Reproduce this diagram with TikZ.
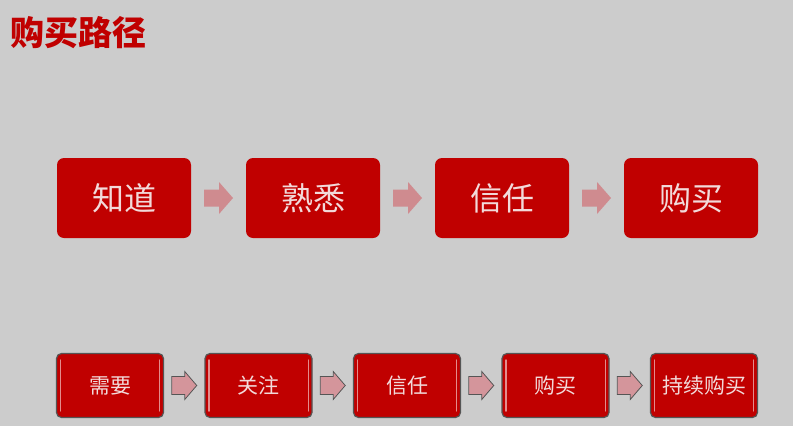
\documentclass[tikz,border=0pt]{standalone}
\usepackage{fontspec}
\newfontfamily\cjk{Noto Sans CJK SC}
\usetikzlibrary{calc}
\definecolor{bg}{HTML}{CCCCCC}
\definecolor{boxred}{HTML}{C00000}
\definecolor{txtlight}{HTML}{F2DADA}
\definecolor{arrowpink}{HTML}{CF8B8F}
\definecolor{arrowpink2}{HTML}{D4959B}
\definecolor{edgegray}{HTML}{555555}
\definecolor{gloss}{HTML}{E38C8C}
\tikzset{
  bigbox/.style={fill=boxred, rounded corners=7pt, minimum width=134pt, minimum height=80pt, inner sep=0pt,
    text=txtlight, font=\cjk\fontsize{32}{36}\selectfont},
  smallbox/.style={fill=boxred, draw=edgegray, line width=1.2pt, rounded corners=5pt, minimum width=107pt, minimum height=64pt, inner sep=0pt,
    text=txtlight, font=\cjk\fontsize{21}{24}\selectfont},
  bigarrow/.style={fill=arrowpink},
  smallarrow/.style={fill=arrowpink2, draw=edgegray, line width=0.8pt},
  glossline/.style={draw=gloss, line width=1.2pt, line cap=round},
}
\newcommand{\BigArrow}[2]{% #1 = left node, #2 = right node
  \path ($(#1.east)!0.5!(#2.west)$) coordinate (m);
  \fill[bigarrow] ($(m)+(-14.5,-8.5)$) -- ($(m)+(0.5,-8.5)$) -- ($(m)+(0.5,-16)$) -- ($(m)+(14.5,0)$)
     -- ($(m)+(0.5,16)$) -- ($(m)+(0.5,8.5)$) -- ($(m)+(-14.5,8.5)$) -- cycle;
}
\newcommand{\SmallArrow}[2]{%
  \path ($(#1.east)!0.5!(#2.west)$) coordinate (m);
  \filldraw[smallarrow] ($(m)+(-12.5,-9)$) -- ($(m)+(0.5,-9)$) -- ($(m)+(0.5,-14)$) -- ($(m)+(12.5,0)$)
     -- ($(m)+(0.5,14)$) -- ($(m)+(0.5,9)$) -- ($(m)+(-12.5,9)$) -- cycle;
}
\newcommand{\Gloss}[1]{%
  \draw[glossline] ($(#1.north west)+(4.5,7)$) -- ($(#1.south west)+(4.5,-7)$);
  \draw[glossline] ($(#1.north east)+(-4.5,7)$) -- ($(#1.south east)+(-4.5,-7)$);
}
\begin{document}
\begin{tikzpicture}[x=1pt,y=-1pt]
\fill[bg] (0,0) rectangle (793,426);
\useasboundingbox (0,0) rectangle (793,426);
\node[text=boxred, font=\cjk\bfseries\fontsize{34}{38}\selectfont, inner sep=0pt] (title) at (78,33) {购买路径};

\node[bigbox] (t1) at (124,198) {知道};
\node[bigbox] (t2) at (313,198) {熟悉};
\node[bigbox] (t3) at (502,198) {信任};
\node[bigbox] (t4) at (691,198) {购买};
\BigArrow{t1}{t2}
\BigArrow{t2}{t3}
\BigArrow{t3}{t4}

\node[smallbox] (b1) at (110,385.5) {需要};
\node[smallbox] (b2) at (258.5,385.5) {关注};
\node[smallbox] (b3) at (407,385.5) {信任};
\node[smallbox] (b4) at (555.5,385.5) {购买};
\node[smallbox] (b5) at (704,385.5) {持续购买};
\Gloss{b1}\Gloss{b2}\Gloss{b3}\Gloss{b4}\Gloss{b5}
\SmallArrow{b1}{b2}
\SmallArrow{b2}{b3}
\SmallArrow{b3}{b4}
\SmallArrow{b4}{b5}
\end{tikzpicture}
\end{document}
